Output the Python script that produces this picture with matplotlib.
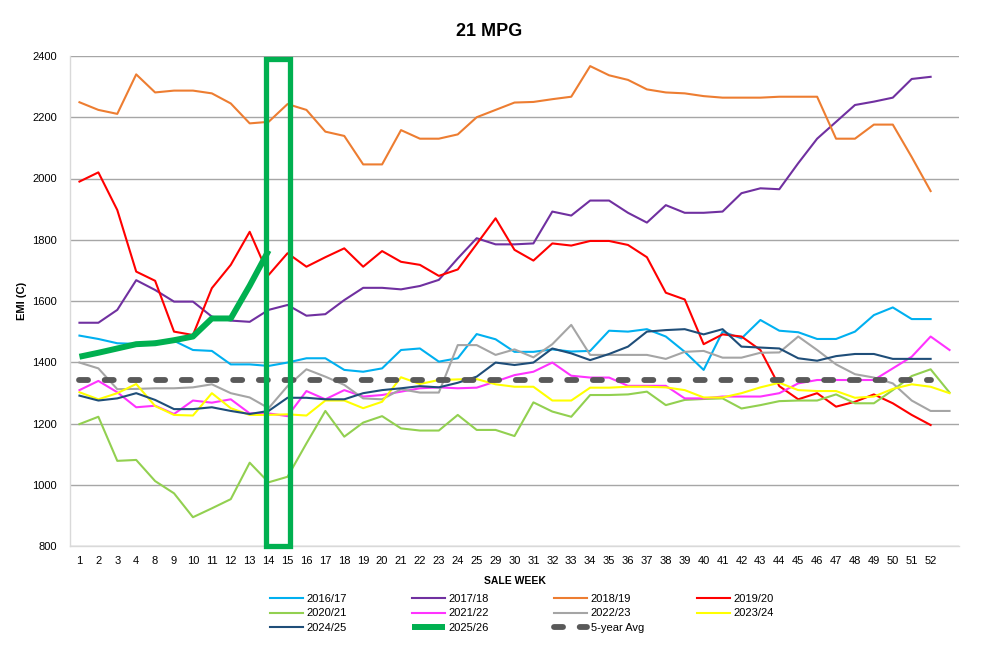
import numpy as np
import matplotlib
matplotlib.use('Agg')
import matplotlib.pyplot as plt
from matplotlib.patches import Rectangle

plt.rcParams['font.family'] = ['Liberation Sans', 'DejaVu Sans']
plt.rcParams['lines.scale_dashes'] = False

nan = np.nan

# sale weeks shown on the axis (last slot has no label)
weeks = ['1', '2', '3', '4', '8', '9', '10', '11', '12', '13', '14', '15', '16', '17',
         '18', '19', '20', '21', '22', '23', '24', '25', '29', '30', '31', '32', '33',
         '34', '35', '36', '37', '38', '39', '40', '41', '42', '43', '44', '45', '46',
         '47', '48', '49', '50', '51', '52', '']

s1617 = [1487, 1476, 1462, 1460, 1467, 1470, 1440, 1437, 1393, 1393,
         1388, 1399, 1413, 1413, 1375, 1369, 1380, 1440, 1445, 1402,
         1413, 1492, 1475, 1434, 1434, 1442, 1435, 1437, 1503, 1500,
         1508, 1484, 1434, 1375, 1500, 1478, 1538, 1503, 1498, 1476,
         1476, 1500, 1554, 1579, 1541, 1541, nan]
s1718 = [1529, 1529, 1571, 1668, 1636, 1598, 1598, 1549, 1536, 1532,
         1571, 1587, 1552, 1557, 1603, 1643, 1643, 1638, 1649, 1669,
         1739, 1805, 1785, 1785, 1788, 1892, 1879, 1928, 1928, 1888,
         1856, 1913, 1888, 1888, 1892, 1952, 1968, 1965, 2050, 2130,
         2185, 2240, 2251, 2264, 2325, 2332, nan]
s1819 = [2249, 2224, 2211, 2340, 2281, 2287, 2287, 2278, 2245, 2180,
         2185, 2243, 2224, 2153, 2139, 2046, 2046, 2158, 2130, 2130,
         2144, 2200, 2224, 2248, 2250, 2259, 2267, 2367, 2337, 2322,
         2291, 2281, 2278, 2269, 2264, 2264, 2264, 2267, 2267, 2267,
         2130, 2130, 2176, 2176, 2070, 1959, nan]
s1920 = [1990, 2020, 1897, 1696, 1666, 1500, 1489, 1642, 1718, 1826,
         1685, 1756, 1712, 1743, 1772, 1712, 1763, 1728, 1718, 1682,
         1703, 1786, 1870, 1767, 1732, 1788, 1781, 1796, 1796, 1783,
         1743, 1627, 1605, 1459, 1491, 1484, 1440, 1322, 1279, 1299,
         1255, 1271, 1295, 1266, 1228, 1195, nan]
s2021 = [1198, 1222, 1078, 1081, 1012, 972, 894, 923, 953, 1072,
         1008, 1026, 1135, 1241, 1157, 1203, 1224, 1184, 1177, 1177,
         1228, 1179, 1179, 1159, 1269, 1239, 1222, 1293, 1293, 1295,
         1304, 1260, 1277, 1280, 1282, 1249, 1260, 1273, 1275, 1275,
         1295, 1266, 1266, 1309, 1355, 1377, 1301]
s2122 = [1309, 1339, 1302, 1253, 1258, 1231, 1275, 1268, 1279, 1233,
         1233, 1224, 1306, 1279, 1309, 1288, 1293, 1304, 1315, 1318,
         1315, 1317, 1337, 1358, 1369, 1399, 1356, 1350, 1350, 1323,
         1323, 1323, 1282, 1282, 1288, 1288, 1288, 1299, 1331, 1342,
         1342, 1342, 1342, 1380, 1418, 1484, 1440]
s2223 = [1399, 1380, 1312, 1313, 1315, 1315, 1318, 1328, 1299, 1285,
         1250, 1322, 1377, 1353, 1326, 1282, 1279, 1312, 1301, 1301,
         1456, 1456, 1424, 1442, 1416, 1459, 1522, 1424, 1424, 1424,
         1424, 1411, 1434, 1437, 1415, 1415, 1431, 1432, 1484, 1440,
         1393, 1361, 1350, 1331, 1275, 1241, 1241]
s2324 = [1302, 1279, 1299, 1329, 1257, 1228, 1226, 1299, 1250, 1228,
         1228, 1230, 1226, 1275, 1275, 1250, 1271, 1351, 1329, 1342,
         1344, 1345, 1328, 1320, 1320, 1275, 1275, 1317, 1317, 1320,
         1320, 1318, 1309, 1285, 1285, 1299, 1318, 1333, 1309, 1306,
         1306, 1284, 1288, 1313, 1328, 1320, 1299]
s2425 = [1291, 1275, 1282, 1299, 1277, 1247, 1247, 1253, 1241, 1231,
         1241, 1284, 1284, 1279, 1279, 1299, 1309, 1315, 1322, 1318,
         1333, 1353, 1399, 1391, 1399, 1445, 1429, 1407, 1427, 1451,
         1500, 1505, 1508, 1491, 1508, 1451, 1448, 1445, 1413, 1405,
         1420, 1427, 1427, 1411, 1411, 1411, nan]
s2526 = [1418, 1431, 1445, 1459, 1462, 1472, 1484, 1543, 1543, 1650, 1765]
avg5 = [1342] * 46

labels = ['2016/17', '2017/18', '2018/19', '2019/20', '2020/21', '2021/22',
          '2022/23', '2023/24', '2024/25', '2025/26', '5-year Avg']
colors = ['#00B0F0', '#7030A0', '#ED7D31', '#FF0000', '#92D050', '#FF33FF',
          '#A5A5A5', '#FFFF00', '#1F4E79', '#00B050', '#595959']

series = [s1617, s1718, s1819, s1920, s2021, s2122, s2223, s2324, s2425]

fig = plt.figure(figsize=(9.87, 6.48), dpi=100)
ax = fig.add_axes([70 / 987, 1 - 546 / 648, 889 / 987, 490 / 648])

handles = []
for i, s in enumerate(series):
    y = np.array(s, dtype=float)
    h, = ax.plot(np.arange(len(y)), y, color=colors[i], lw=1.5, zorder=3)
    handles.append(h)

h, = ax.plot(np.arange(len(s2526)), s2526, color=colors[9], lw=4.3,
             solid_capstyle='butt', zorder=4)
handles.append(h)
h, = ax.plot(np.arange(len(avg5)), avg5, color=colors[10], lw=4.2,
             dashes=(6.5, 12.0), dash_capstyle='round', zorder=3.5)
handles.append(h)

# highlight box around the current weeks
ax.add_patch(Rectangle((9.87, 800), 1.27, 1590, fill=False, ec='#00B050',
                       lw=3.8, clip_on=False, zorder=6))

ax.set_xlim(-0.5, 46.5)
ax.set_ylim(800, 2400)
ax.set_xticks(np.arange(len(weeks)))
ax.set_xticklabels(weeks)
ax.set_yticks(np.arange(800, 2401, 200))
ax.tick_params(length=0, labelsize=8)
ax.tick_params(axis='y', pad=9.5)
ax.tick_params(axis='x', pad=7.5)
ax.grid(axis='y', color='#A6A6A6', lw=1.0, zorder=0)
ax.set_axisbelow(True)
for sp in ['top', 'right']:
    ax.spines[sp].set_visible(False)
for sp in ['left', 'bottom']:
    ax.spines[sp].set_color('#D9D9D9')
    ax.spines[sp].set_linewidth(1.0)

fig.text(489 / 987, 1 - 31 / 648, '21 MPG', ha='center', va='center',
         fontsize=13, fontweight='bold')
fig.text(514.5 / 987, 1 - 581 / 648, 'SALE WEEK', ha='center', va='center',
         fontsize=7.5, fontweight='bold')
fig.text(22 / 987, 1 - 301 / 648, 'EMI (C)', ha='center', va='center',
         fontsize=8, fontweight='bold', rotation=90)

# legend laid out column by column like the original
col_x = [270, 412, 554, 697]
for c in range(4):
    idx = list(range(c, len(handles), 4))
    fig.legend([handles[k] for k in idx], [labels[k] for k in idx],
               loc='upper left', bbox_to_anchor=(col_x[c] / 987, 1 - 594 / 648),
               frameon=False, fontsize=8, handlelength=3.0, handletextpad=0.3,
               labelspacing=0.4, borderpad=0, borderaxespad=0)

fig.savefig('out.png', dpi=100)
